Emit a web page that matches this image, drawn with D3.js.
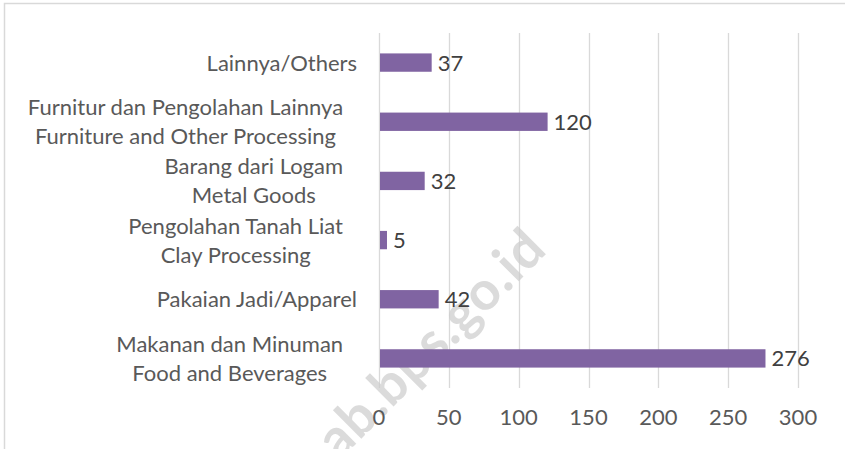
<!DOCTYPE html>
<html>
<head>
<meta charset="utf-8">
<script src="https://cdn.jsdelivr.net/npm/d3@7"></script>
<style>
  body { margin: 0; background: #fff; }
  svg { display: block; font-family: Lato, "Open Sans", sans-serif; }
</style>
</head>
<body>
<div id="chart"></div>
<script>
// categories, bottom to top as in the source sheet
const categories = [
  ["Makanan dan Minuman", "Food and Beverages"],
  ["Pakaian Jadi/Apparel"],
  ["Pengolahan Tanah Liat", "Clay Processing"],
  ["Barang dari Logam", "Metal Goods"],
  ["Furnitur dan Pengolahan Lainnya", "Furniture and Other Processing"],
  ["Lainnya/Others"]
]
const values = [276, 42, 5, 32, 120, 37]
const ticks = [0, 50, 100, 150, 200, 250, 300]
const watermark = "ab.bps.go.id"

const W = 845, H = 449
const FS = 22
const svg = d3.select("#chart").append("svg")
  .attr("width", W)
  .attr("height", H)

// outer frame (only top + left visible)
svg.append("rect")
  .attr("x", 4.5).attr("y", 3.5)
  .attr("width", W + 10).attr("height", H + 10)
  .attr("fill", "none")
  .attr("stroke", "#d9d9d9")
  .attr("stroke-width", 1.5)

const plot = { left: 379, right: 798, top: 33, bottom: 388 }

const x = d3.scaleLinear()
  .domain([0, 300])
  .range([plot.left, plot.right])

const keys = categories.map((c, i) => i)
const y = d3.scaleBand()
  .domain(keys.slice().reverse())
  .range([plot.top, plot.bottom])
  .paddingInner(0.69)
  .paddingOuter(0.345)

// gridlines
svg.append("g")
  .selectAll("line")
  .data(ticks)
  .join("line")
    .attr("x1", d => Math.round(x(d)) + 0.5)
    .attr("x2", d => Math.round(x(d)) + 0.5)
    .attr("y1", plot.top)
    .attr("y2", plot.bottom)
    .attr("stroke", "#d9d9d9")
    .attr("stroke-width", 1.3)

// watermark sits over the grid but under the bars
svg.append("text")
  .attr("transform", "translate(549,251) rotate(-45)")
  .attr("text-anchor", "end")
  .attr("font-size", 54)
  .attr("font-weight", "bold")
  .attr("letter-spacing", 1)
  .attr("fill", "#cccccc")
  .attr("fill-opacity", 0.7)
  .text(watermark)

// tick labels
svg.append("g")
  .selectAll("text")
  .data(ticks)
  .join("text")
    .attr("x", d => x(d))
    .attr("y", plot.bottom + 37)
    .attr("text-anchor", "middle")
    .attr("font-size", FS)
    .attr("fill", "#595959")
    .text(d => d)

// bars
svg.append("g")
  .selectAll("rect")
  .data(keys)
  .join("rect")
    .attr("x", x(0) + 1)
    .attr("y", i => y(i))
    .attr("width", i => x(values[i]) - x(0))
    .attr("height", y.bandwidth())
    .attr("fill", "#8064a2")

// value labels
svg.append("g")
  .selectAll("text")
  .data(keys)
  .join("text")
    .attr("x", i => x(values[i]) + 7)
    .attr("y", i => y(i) + y.bandwidth() / 2)
    .attr("dy", "0.36em")
    .attr("font-size", FS)
    .attr("fill", "#404040")
    .text(i => values[i])

// category labels
const lineGap = 29
const catG = svg.append("g")
categories.forEach((lines, i) => {
  const cy = y(i) + y.bandwidth() / 2
  const t = catG.append("text")
    .attr("font-size", FS)
    .attr("fill", "#595959")
  lines.forEach(ln => t.append("tspan").text(ln))
  if (lines.length === 1) {
    t.attr("text-anchor", "end")
    t.selectAll("tspan").attr("x", 357).attr("y", cy).attr("dy", "0.36em")
  } else {
    const maxW = d3.max(t.selectAll("tspan").nodes(), n => n.getComputedTextLength())
    let cx = 343 - maxW / 2
    if (cx - maxW / 2 < 22) cx = 22 + maxW / 2
    t.attr("text-anchor", "middle")
    t.selectAll("tspan")
      .attr("x", cx)
      .attr("y", (d, j) => cy + (j - (lines.length - 1) / 2) * lineGap)
      .attr("dy", "0.36em")
  }
})
</script>
</body>
</html>
